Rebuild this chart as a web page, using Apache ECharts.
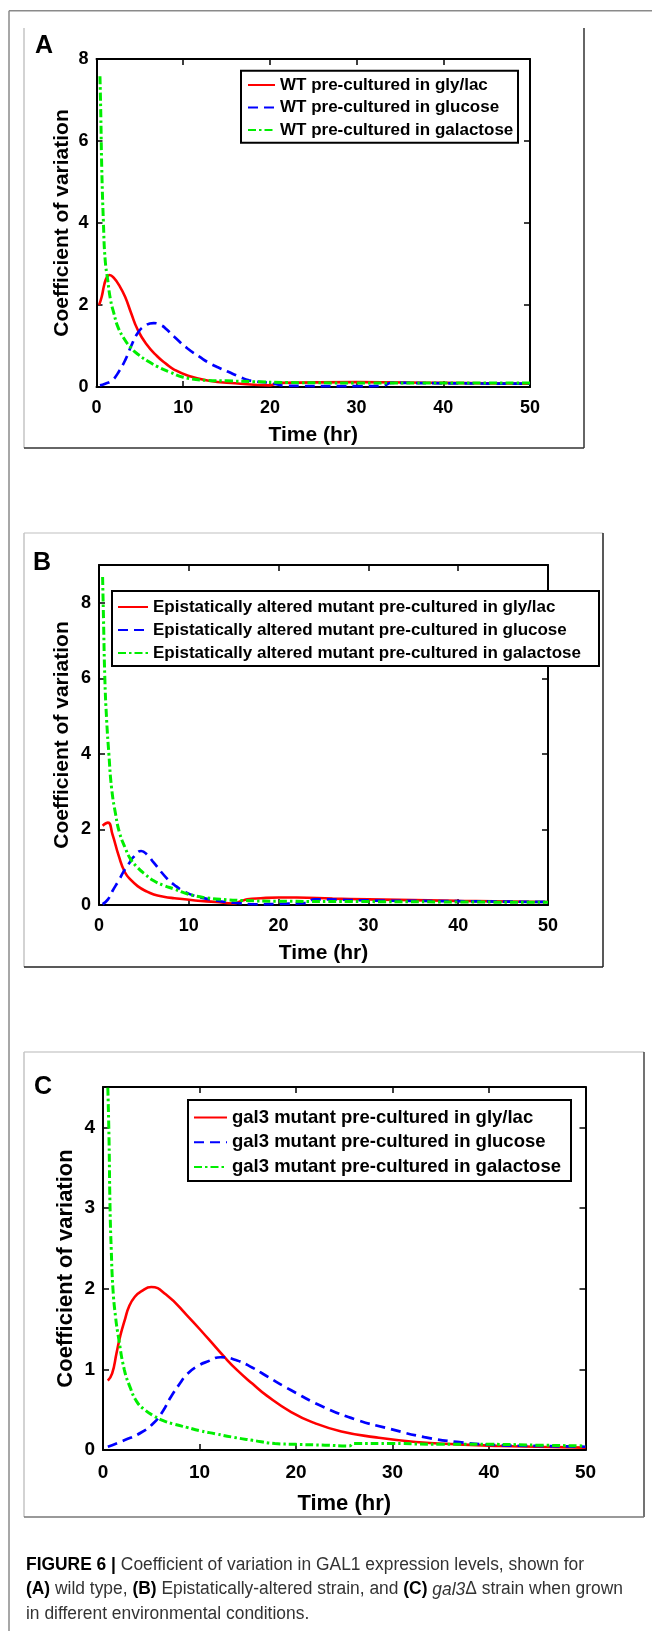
<!DOCTYPE html>
<html><head><meta charset="utf-8">
<script src="https://cdn.jsdelivr.net/npm/echarts/dist/echarts.min.js"></script>
<style>html,body{margin:0;padding:0;background:#fff}#c{width:652px;height:1631px}</style>
</head><body><div id="c"></div>
<script>
// ---------- DATA ----------
const xTicks = [0, 10, 20, 30, 40, 50];

// Panel A: wild type
const namesA = ['WT pre-cultured in gly/lac', 'WT pre-cultured in glucose', 'WT pre-cultured in galactose'];
const tA_gly = [0.3, 0.6, 0.9, 1.2, 1.5, 2.0, 2.7, 3.3, 4.0, 4.7, 5.7, 7.0, 8.0, 9.0, 10.5, 12.8, 16, 20, 21, 30, 40, 50];
const cvA_gly = [2.0, 2.2, 2.5, 2.68, 2.73, 2.66, 2.45, 2.2, 1.8, 1.42, 1.06, 0.75, 0.57, 0.42, 0.28, 0.16, 0.09, 0.04, 0.1, 0.12, 0.1, 0.08];
const tA_glu = [0.4, 1.0, 1.8, 2.5, 3.3, 4.0, 4.7, 5.5, 6.6, 7.5, 8.0, 9.0, 10.5, 12.0, 12.8, 14.0, 15.2, 16.5, 17.6, 20, 22, 30, 33, 34, 40, 50];
const cvA_glu = [0.04, 0.08, 0.16, 0.35, 0.65, 1.0, 1.3, 1.48, 1.56, 1.5, 1.42, 1.22, 0.94, 0.72, 0.61, 0.48, 0.37, 0.25, 0.16, 0.1, 0.03, 0.02, 0.03, 0.1, 0.09, 0.08];
const tA_gal = [0.4, 0.5, 0.6, 0.8, 1.0, 1.3, 1.6, 2.0, 2.5, 3.3, 4.0, 4.7, 6.0, 7.1, 8.5, 10, 12.8, 15, 18, 22, 30, 40, 50];
const cvA_gal = [7.58, 6.6, 5.4, 4.0, 3.1, 2.6, 2.15, 1.8, 1.45, 1.14, 0.95, 0.81, 0.62, 0.49, 0.36, 0.24, 0.16, 0.15, 0.13, 0.11, 0.1, 0.1, 0.1];

// Panel B: epistatically altered mutant
const namesB = ['Epistatically altered mutant pre-cultured in gly/lac', 'Epistatically altered mutant pre-cultured in glucose', 'Epistatically altered mutant pre-cultured in galactose'];
const tB_gly = [0.4, 1.0, 1.5, 2.2, 2.9, 3.6, 4.3, 5.2, 6.1, 7.2, 8.4, 10.7, 13, 15, 15.8, 16.5, 18, 20, 22, 26, 30, 40, 50];
const cvB_gly = [2.1, 2.18, 1.87, 1.3, 0.86, 0.65, 0.5, 0.37, 0.28, 0.22, 0.18, 0.12, 0.08, 0.04, 0.1, 0.15, 0.18, 0.2, 0.2, 0.17, 0.15, 0.11, 0.08];
const tB_glu = [0.4, 1.0, 1.5, 2.2, 2.9, 3.4, 3.8, 4.7, 5.4, 6.1, 7.5, 8.4, 9.4, 10.7, 13, 15, 17.7, 20, 23, 24, 27, 30, 40, 50];
const cvB_glu = [0.02, 0.15, 0.37, 0.65, 0.95, 1.12, 1.26, 1.43, 1.32, 1.12, 0.72, 0.53, 0.37, 0.24, 0.12, 0.06, 0.02, 0.03, 0.05, 0.15, 0.14, 0.12, 0.1, 0.08];
const tB_gal = [0.4, 0.5, 0.65, 0.85, 1.1, 1.4, 1.85, 2.3, 2.9, 3.5, 4.3, 5.2, 6.1, 7.2, 8.4, 9.5, 10.7, 12, 13.5, 16, 20, 30, 40, 50];
const cvB_gal = [8.68, 7.6, 6.0, 4.9, 4.0, 3.1, 2.4, 1.9, 1.52, 1.22, 0.99, 0.8, 0.64, 0.52, 0.42, 0.32, 0.24, 0.19, 0.15, 0.12, 0.1, 0.09, 0.08, 0.07];

// Panel C: gal3 mutant
const namesC = ['gal3 mutant pre-cultured in gly/lac', 'gal3 mutant pre-cultured in glucose', 'gal3 mutant pre-cultured in galactose'];
const tC_gly = [0.5, 0.95, 1.4, 1.8, 2.3, 2.7, 3.3, 4.0, 5.0, 6.5, 8.7, 10.9, 12.6, 13.9, 15.5, 16.9, 19.5, 22, 24.7, 28.1, 32.4, 36.7, 41, 45, 50];
const cvC_gly = [0.86, 0.95, 1.2, 1.42, 1.63, 1.78, 1.9, 1.97, 2.02, 1.93, 1.67, 1.38, 1.15, 0.99, 0.82, 0.68, 0.47, 0.33, 0.23, 0.16, 0.1, 0.07, 0.05, 0.04, 0.03];
const tC_glu = [0.5, 2.2, 4.0, 5.3, 6.2, 7.0, 8.0, 8.7, 9.8, 10.9, 12.2, 13.9, 15.5, 16.9, 19.5, 22.9, 26.4, 29.8, 33.3, 36.7, 41, 45, 50];
const cvC_glu = [0.04, 0.12, 0.22, 0.34, 0.48, 0.65, 0.83, 0.94, 1.04, 1.1, 1.15, 1.11, 1.02, 0.92, 0.74, 0.53, 0.37, 0.26, 0.16, 0.1, 0.06, 0.05, 0.04];
const tC_gal = [0.4, 0.6, 0.73, 0.85, 1.03, 1.3, 1.6, 2.2, 2.8, 3.5, 4.3, 5.3, 6.3, 7.4, 8.7, 10, 11.7, 13.4, 15.5, 17.8, 20, 23, 25.5, 26, 30, 35, 40, 45, 50];
const cvC_gal = [4.9, 4.0, 3.0, 2.5, 2.0, 1.65, 1.4, 1.0, 0.78, 0.6, 0.5, 0.42, 0.36, 0.32, 0.28, 0.24, 0.2, 0.16, 0.12, 0.08, 0.07, 0.06, 0.05, 0.08, 0.08, 0.07, 0.07, 0.06, 0.05];

const yMaxes = [8, 9, 4.5];
const yIntervals = [2, 2, 1];
const panelLetters = ['A', 'B', 'C'];
const xTitle = 'Time (hr)';
const yTitle = 'Coefficient of variation';
const captionBold1 = 'FIGURE 6 |';
const captionRest1 = ' Coefficient of variation in GAL1 expression levels, shown for';
const captionLines = [
  '{b|' + captionBold1 + '}' + captionRest1,
  '{b|(A)} wild type, {b|(B)} Epistatically-altered strain, and {b|(C)} {i|gal3}Δ strain when grown',
  'in different environmental conditions.'
];

// ---------- BUILD ----------
const FF = "'Liberation Sans', Arial, sans-serif";
const CF = "'Liberation Sans', Arial, sans-serif";
const zip = (t, v) => t.map((x, i) => [x, v[i]]);
const colors = ['#ff0000', '#0000ff', '#00ee00'];
const dashes = ['solid', [10, 6], [8, 3, 2.5, 3]];
const widths = [2.6, 2.7, 3];

const grids = [
  {left: 96.5, top: 59, width: 433.5, height: 328},
  {left: 99, top: 565, width: 449, height: 340},
  {left: 103, top: 1087, width: 482.5, height: 363}
];
const lab = [
  {fs: 18, ts: 21, xm: 12, xg: 48, yc: [62, 223]},
  {fs: 18, ts: 21, xm: 12, xg: 48, yc: [62, 735]},
  {fs: 19, ts: 22, xm: 13, xg: 54, yc: [65.5, 1268.5]}
];
const panels = [
  {names: namesA, data: [zip(tA_gly, cvA_gly), zip(tA_glu, cvA_glu), zip(tA_gal, cvA_gal)]},
  {names: namesB, data: [zip(tB_gly, cvB_gly), zip(tB_glu, cvB_glu), zip(tB_gal, cvB_gal)]},
  {names: namesC, data: [zip(tC_gly, cvC_gly), zip(tC_glu, cvC_glu), zip(tC_gal, cvC_gal)]}
];
const legendPos = [
  {left: 247, top: 73.75, iw: 27, lh: 22.5, fs: 17, box: [241, 70.7, 277, 72]},
  {left: 117, top: 595.5, iw: 30, lh: 23, fs: 17, box: [112, 591, 487, 75]},
  {left: 193, top: 1105.1, iw: 33, lh: 24.75, fs: 18.5, box: [188, 1100, 383, 81]}
];

const axLine = {show: true, onZero: false, lineStyle: {color: '#000', width: 2}};
const axTick = {show: true, inside: true, length: 6, lineStyle: {color: '#000', width: 1.5}};
const xAxis = [], yAxis = [], series = [], legend = [];
grids.forEach((g, i) => {
  const L = lab[i];
  xAxis.push({gridIndex: i, type: 'value', min: 0, max: 50, interval: 10, position: 'bottom',
    axisLine: axLine, axisTick: axTick, splitLine: {show: false},
    axisLabel: {color: '#000', fontWeight: 'bold', fontSize: L.fs, fontFamily: FF, margin: L.xm},
    name: xTitle, nameLocation: 'middle', nameGap: L.xg,
    nameTextStyle: {color: '#000', fontWeight: 'bold', fontSize: L.ts, fontFamily: FF, verticalAlign: 'middle'}});
  xAxis.push({gridIndex: i, type: 'value', min: 0, max: 50, interval: 10, position: 'top',
    axisLine: axLine, axisTick: axTick, splitLine: {show: false}, axisLabel: {show: false}});
  yAxis.push({gridIndex: i, type: 'value', min: 0, max: yMaxes[i], interval: yIntervals[i], position: 'left',
    axisLine: axLine, axisTick: axTick, splitLine: {show: false},
    axisLabel: {color: '#000', fontWeight: 'bold', fontSize: L.fs, fontFamily: FF, margin: 8, showMaxLabel: i === 0}});
  yAxis.push({gridIndex: i, type: 'value', min: 0, max: yMaxes[i], interval: yIntervals[i], position: 'right',
    axisLine: axLine, axisTick: axTick, splitLine: {show: false}, axisLabel: {show: false}});
  panels[i].data.forEach((d, k) => {
    series.push({type: 'line', name: panels[i].names[k], xAxisIndex: i * 2, yAxisIndex: i * 2,
      data: d, showSymbol: false, symbol: 'none', smooth: 0.5, clip: true,
      lineStyle: {color: colors[k], width: widths[k], type: dashes[k]}, itemStyle: {color: colors[k]}, z: 3});
  });
  const lp = legendPos[i];
  legend.push({orient: 'vertical', left: lp.left, top: lp.top, itemWidth: lp.iw, itemHeight: 10, itemGap: 0,
    padding: 0, selectedMode: false, data: panels[i].names, z: 20,
    itemStyle: {opacity: 0, borderWidth: 0},
    textStyle: {color: '#000', fontWeight: 'bold', fontSize: lp.fs, fontFamily: FF, lineHeight: lp.lh}});
});

const graphic = [];
const gl = (x1, y1, x2, y2, c, w) => graphic.push({type: 'line', z: 1, shape: {x1, y1, x2, y2}, style: {stroke: c, lineWidth: w || 1.5}});
// outer figure frame
gl(9, 10.7, 652, 10.7, '#8a8a8a');
gl(9, 10.7, 9, 1631, '#8a8a8a');
// panel A frame
gl(24, 28, 24, 448, '#c4c4c4');
gl(584, 28, 584, 448, '#333');
gl(24, 448, 584, 448, '#333');
// panel B frame
gl(24, 533, 603, 533, '#d4d4d4');
gl(24, 533, 24, 967, '#c4c4c4');
gl(603, 533, 603, 967, '#222');
gl(24, 967, 603, 967, '#222');
// panel C frame
gl(24, 1052, 644, 1052, '#cfcfcf');
gl(24, 1052, 24, 1517, '#c4c4c4');
gl(644, 1052, 644, 1517, '#444');
gl(24, 1517, 644, 1517, '#777');
// legend boxes
legendPos.forEach(lp => graphic.push({type: 'rect', z: 15,
  shape: {x: lp.box[0], y: lp.box[1], width: lp.box[2], height: lp.box[3]},
  style: {fill: '#fff', stroke: '#000', lineWidth: 2}}));
// y-axis titles (rotated)
lab.forEach(L => graphic.push({type: 'text', z: 15, x: L.yc[0], y: L.yc[1], rotation: Math.PI / 2,
  style: {text: yTitle, fill: '#000', font: 'bold ' + L.ts + 'px ' + FF, align: 'center', verticalAlign: 'middle'}}));
// panel letters
const letterPos = [[35, 46], [33, 563.5], [34, 1087]];
panelLetters.forEach((t, i) => graphic.push({type: 'text', z: 15, x: letterPos[i][0], y: letterPos[i][1],
  style: {text: t, fill: '#000', font: 'bold 25px ' + FF, verticalAlign: 'middle'}}));
// caption (horizontally condensed to the reference's narrow typeface)
const CAP_FS = 18;
const mctx = document.createElement('canvas').getContext('2d');
mctx.font = 'bold ' + CAP_FS + 'px ' + CF;
let capW = mctx.measureText(captionBold1).width;
mctx.font = CAP_FS + 'px ' + CF;
capW += mctx.measureText(captionRest1).width;
const capScale = 558 / capW;
const capY = [1565, 1589.5, 1614];
captionLines.forEach((t, i) => graphic.push({type: 'text', z: 15, x: 26, y: capY[i], scaleX: capScale,
  style: {text: t, fill: '#333', fontSize: CAP_FS, fontFamily: CF, verticalAlign: 'middle',
    rich: {b: {fontWeight: 'bold', fontSize: CAP_FS, fontFamily: CF, fill: '#000'},
           i: {fontStyle: 'italic', fontSize: CAP_FS, fontFamily: CF, fill: '#333'}}}}));

const chart = echarts.init(document.getElementById('c'), null, {renderer: 'canvas'});
chart.setOption({animation: false, backgroundColor: '#fff', grid: grids, xAxis, yAxis, series, legend, graphic});
</script></body></html>
